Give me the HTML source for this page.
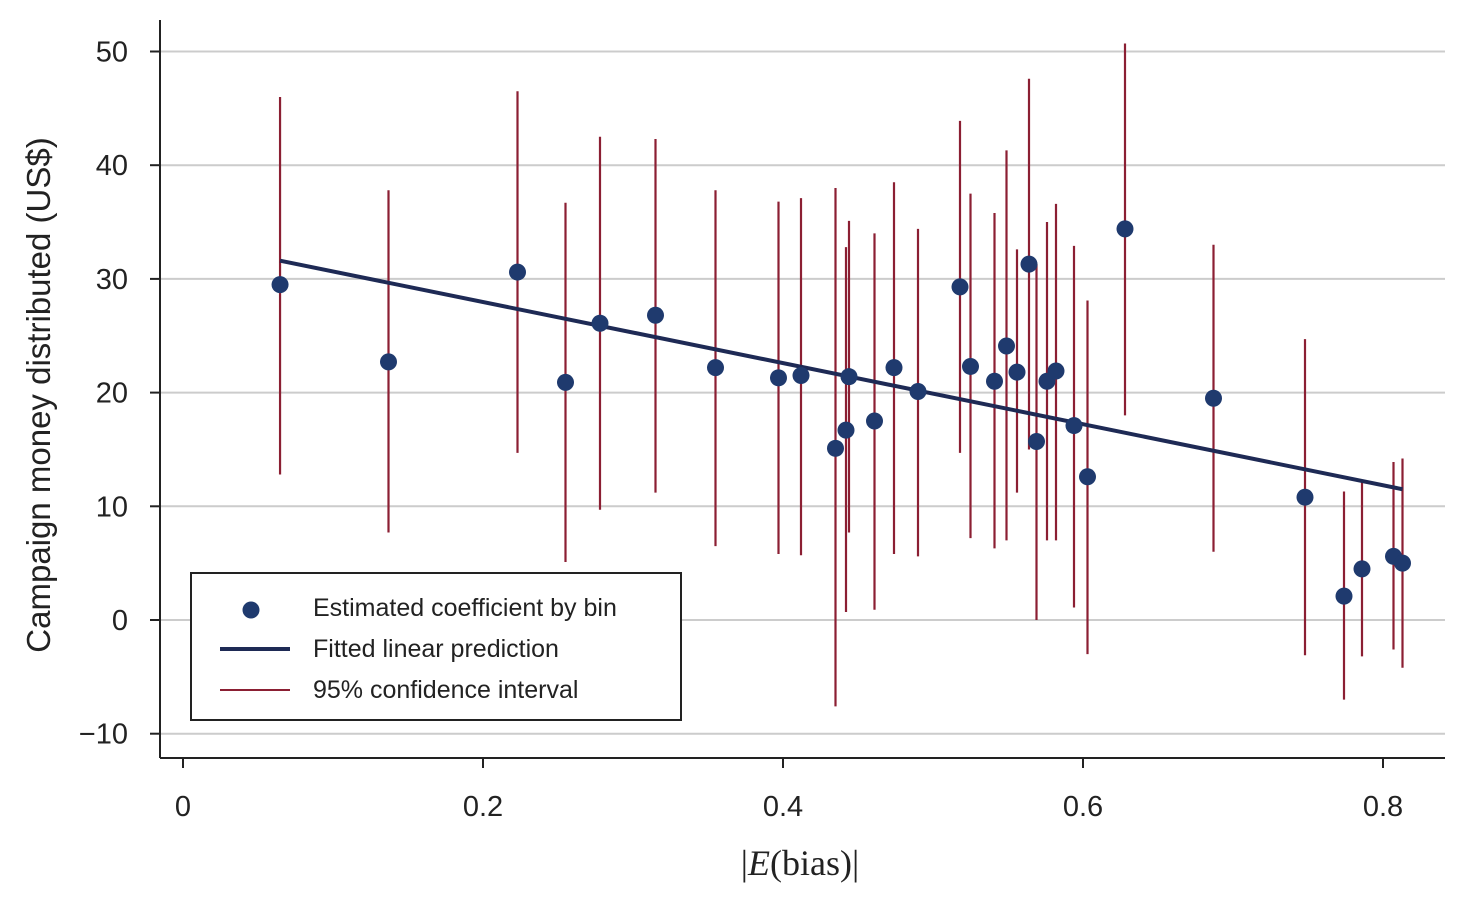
<!DOCTYPE html>
<html><head><meta charset="utf-8"><style>
body{margin:0;background:#fff;}
svg{display:block;}
text{font-family:"Liberation Sans",sans-serif;fill:#222;}
</style></head><body>
<svg id="chart" width="1460" height="900"></svg>
<script>
const xs=[0.0647,0.137,0.223,0.255,0.278,0.315,0.355,0.397,0.412,0.435,0.442,0.444,0.461,0.474,0.49,0.518,0.525,0.541,0.549,0.556,0.564,0.569,0.576,0.582,0.594,0.603,0.628,0.687,0.748,0.774,0.786,0.807,0.813];
const coef=[29.5,22.7,30.6,20.9,26.1,26.8,22.2,21.3,21.5,15.1,16.7,21.4,17.5,22.2,20.1,29.3,22.3,21.0,24.1,21.8,31.3,15.7,21.0,21.9,17.1,12.6,34.4,19.5,10.8,2.1,4.5,5.6,5.0];
const ciHi=[46,37.8,46.5,36.7,42.5,42.3,37.8,36.8,37.1,38,32.8,35.1,34,38.5,34.4,43.9,37.5,35.8,41.3,32.6,47.6,31.3,35.0,36.6,32.9,28.1,50.7,33.0,24.7,11.3,12.2,13.9,14.2];
const ciLo=[12.8,7.7,14.7,5.1,9.7,11.2,6.5,5.8,5.7,-7.6,0.7,7.7,0.9,5.8,5.6,14.7,7.2,6.3,7.0,11.2,15.0,0,7.0,7.0,1.1,-3.0,18.0,6.0,-3.1,-7.0,-3.2,-2.6,-4.2];
const fitX=[0.0647,0.813];
const fitY=[31.6,11.5];
const yTicks=[-10,0,10,20,30,40,50];
const yTickLabels=["\u221210","0","10","20","30","40","50"];
const xTicks=[0,0.2,0.4,0.6,0.8];
const xTickLabels=["0","0.2","0.4","0.6","0.8"];

const sx=v=>183+v*1500;
const sy=v=>620-v*11.37;
const svg=document.getElementById('chart');
const NS='http://www.w3.org/2000/svg';
function mk(tag,attrs,parent){const e=document.createElementNS(NS,tag);for(const k in attrs)e.setAttribute(k,attrs[k]);(parent||svg).appendChild(e);return e;}

yTicks.forEach((t,i)=>{
  const g=mk('line',{x1:160,x2:1445,y1:sy(t),y2:sy(t),stroke:'#ccc','stroke-width':2});
  
  
  const tk=mk('line',{x1:150,x2:160,y1:sy(t),y2:sy(t),stroke:'#222','stroke-width':2});
  
  
  const tx=mk('text',{x:128,y:sy(t)+10,'text-anchor':'end','font-size':29});
  tx.textContent=yTickLabels[i];
  
  
});
xTicks.forEach((t,i)=>{
  const tk=mk('line',{x1:sx(t),x2:sx(t),y1:758,y2:768,stroke:'#222','stroke-width':2});
  
  
  const tx=mk('text',{x:sx(t),y:816,'text-anchor':'middle','font-size':29});
  tx.textContent=xTickLabels[i];
  
  
});
const ax1=mk('line',{x1:160,x2:160,y1:20,y2:758,stroke:'#222','stroke-width':2});


const ax2=mk('line',{x1:160,x2:1445,y1:758,y2:758,stroke:'#222','stroke-width':2});



xs.forEach((x,i)=>{
  const l=mk('line',{x1:sx(x),x2:sx(x),y1:sy(ciHi[i]),y2:sy(ciLo[i]),stroke:'#8b1f33','stroke-width':2.2});
  
  
});
const fit=mk('line',{x1:sx(fitX[0]),x2:sx(fitX[1]),y1:sy(fitY[0]),y2:sy(fitY[1]),stroke:'#1e2a55','stroke-width':4});


xs.forEach((x,i)=>{
  const c=mk('circle',{cx:sx(x),cy:sy(coef[i]),r:8.5,fill:'#1f3a6e'});
  
  
});

const lg=mk('g',{});


mk('rect',{x:191,y:573,width:490,height:147,fill:'#fff',stroke:'#222','stroke-width':2},lg);
mk('circle',{cx:251,cy:610,r:8.5,fill:'#1f3a6e'},lg);
mk('line',{x1:220,x2:290,y1:649,y2:649,stroke:'#1e2a55','stroke-width':4},lg);
mk('line',{x1:220,x2:290,y1:690,y2:690,stroke:'#8b1f33','stroke-width':2},lg);
[["Estimated coefficient by bin",616],["Fitted linear prediction",657],["95% confidence interval",698]].forEach(([t,y])=>{
  const e=mk('text',{x:313,y:y,'font-size':25},lg);e.textContent=t;
  
  
});

const yl=mk('text',{x:0,y:0,'font-size':33,'text-anchor':'middle',transform:'translate(50,395) rotate(-90)'});
yl.textContent='Campaign money distributed (US$)';


const xl=mk('text',{x:800,y:875,'font-size':36,'text-anchor':'middle'});
xl.setAttribute('style','font-family:"Liberation Serif",serif');
xl.innerHTML='|<tspan font-style="italic">E</tspan>(bias)|';


</script>
</body></html>
